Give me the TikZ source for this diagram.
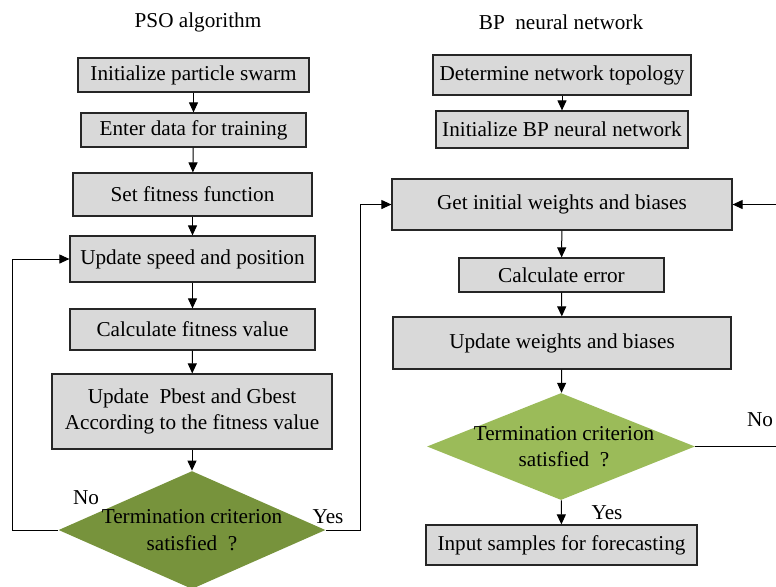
\documentclass[tikz,border=0pt]{standalone}
\usepackage{fontspec}
\setmainfont{Liberation Serif}
\usetikzlibrary{arrows.meta,shapes.geometric,positioning}

\definecolor{boxgray}{HTML}{D9D9D9}
\definecolor{darkolive}{HTML}{77933C}
\definecolor{lightolive}{HTML}{9BBB59}

\begin{document}
\begin{tikzpicture}[x=0.5pt,y=-0.5pt,
		font=\fontsize{10.6}{13.2}\selectfont,
		box/.style={draw=black!85, line width=0.6pt, fill=boxgray, inner sep=0pt, align=center},
		dia/.style={diamond, inner sep=0pt, draw=none},
		arr/.style={line width=0.5pt, -{Triangle[length=5pt,width=4.5pt]}},
		plain/.style={line width=0.5pt}]
			\useasboundingbox (0,0) rectangle (776,586);
			\clip (0,0) rectangle (776,586);

			% PSO algorithm
			\node (psotitle) at (198,22) {PSO algorithm};
			\node[box, minimum width=115.5pt, minimum height=17pt] (init) at (193.5,75) {Initialize particle swarm};
			\node[box, minimum width=112.5pt, minimum height=17pt] (enter) at (193.5,130) {Enter data for training};
			\node[box, minimum width=119.5pt, minimum height=21.5pt] (fitfun) at (192.5,194.5) {Set fitness function};
			\node[box, minimum width=122.5pt, minimum height=23pt] (speed) at (192.5,259) {Update speed and position};
			\node[box, minimum width=122.5pt, minimum height=20.5pt] (fitval) at (192.5,329.5) {Calculate fitness value};
			\node[box, minimum width=140pt, minimum height=37.5pt] (best) at (192,411.5) {Update\ \ Pbest and Gbest\\According to the fitness value};
			\node[dia, fill=darkolive, minimum width=133.5pt, minimum height=59pt] (psoend) at (192,530) {};
			\node[align=center] (psoendtxt) at (psoend) {Termination criterion\\satisfied\ \ ?};

			\draw[arr] (init) -- (enter);
			\draw[arr] (enter) -- (fitfun);
			\draw[arr] (fitfun) -- (speed);
			\draw[arr] (speed) -- (fitval);
			\draw[arr] (fitval) -- (best);
			\draw[arr] (best) -- (psoend);

			\draw[arr] (psoend.west) -- ++(-46,0) |- (speed.west);
			\node (psono) at (86,498) {No};

			% BP neural network
			\node (bptitle) at (561,22) {BP\ \ neural network};
			\node[box, minimum width=129pt, minimum height=20pt] (topo) at (562,75) {Determine network topology};
			\node[box, minimum width=126pt, minimum height=18.5pt] (bpinit) at (562,129.5) {Initialize BP neural network};
			\node[box, minimum width=170pt, minimum height=25.5pt] (weights) at (562,204.5) {Get initial weights and biases};
			\node[box, minimum width=102.5pt, minimum height=17pt] (error) at (561.5,275) {Calculate error};
			\node[box, minimum width=169pt, minimum height=26pt] (update) at (562,343) {Update weights and biases};
			\node[dia, fill=lightolive, minimum width=134pt, minimum height=53.5pt] (bpend) at (561,446.5) {};
			\node[align=center] (bpendtxt) at (564,446.5) {Termination criterion\\satisfied\ \ ?};
			\node[box, minimum width=135.5pt, minimum height=20pt] (forecast) at (561.5,545) {Input samples for forecasting};

			\draw[arr] (topo) -- (bpinit);
			\draw[arr] (weights) -- (error);
			\draw[arr] (error) -- (update);
			\draw[arr] (update) -- (bpend);
			\draw[arr] (bpend) -- (forecast);
			\node (bpyes) at (607,513) {Yes};

			\coordinate (bpturn) at (800,446.5);
			\draw[arr] (bpend.east) -- (bpturn) |- (weights.east);
			\node (bpno) at (760,420) {No};

			% PSO result into BP
			\draw[arr] (psoend.east) -- ++(35,0) |- (weights.west);
			\node (psoyes) at (328,517) {Yes};

		    \end{tikzpicture}
\end{document}
